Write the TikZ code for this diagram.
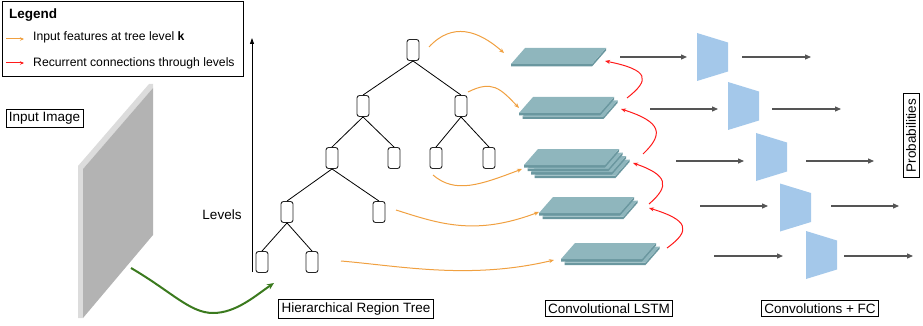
\documentclass[tikz,border=0pt]{standalone}
\usepackage{fontspec}
\setmainfont{Liberation Sans}
\usetikzlibrary{arrows.meta}
\definecolor{orangec}{HTML}{F0A040}
\definecolor{redc}{HTML}{FF1A1A}
\definecolor{greenc}{HTML}{3B7A1E}
\definecolor{grayarr}{HTML}{555555}
\definecolor{slabtop}{HTML}{8FB6BD}
\definecolor{slabedge}{HTML}{6A979F}
\definecolor{trapc}{HTML}{A4C8EA}
\definecolor{imgfront}{HTML}{B3B3B3}
\definecolor{imgedge}{HTML}{DCDCDC}
\newcommand\LstmLayer[2]{%
  \fill[slabedge] (#1-14,#2+16) -- (#1+67,#2+16) -- (#1+81,#2) -- (#1+81,#2+2.5) -- (#1+67,#2+18.5) -- (#1-14,#2+18.5) -- cycle;
  \fill[slabtop] (#1,#2) -- (#1+81,#2) -- (#1+67,#2+16) -- (#1-14,#2+16) -- cycle;
}
\newcommand\TrapShape[2]{%
  \fill[trapc] (#1,#2-24) -- (#1+31,#2-14.5) -- (#1+31,#2+14.5) -- (#1,#2+24) -- cycle;
}
\tikzset{
  treenode/.style={draw=black!85, rounded corners=2.5pt, minimum width=12pt, minimum height=21pt, line width=0.9pt, inner sep=0pt},
  labelbox/.style={draw, line width=0.7pt, font=\fontsize{13.5}{15}\selectfont, inner sep=3pt},
  treeedge/.style={line width=0.8pt, black},
  featarrow/.style={orangec, line width=1pt, -{Stealth[length=5pt,width=4pt]}},
  recarrow/.style={redc, line width=1pt, -{Stealth[length=5pt,width=4pt]}},
  grayarrow/.style={grayarr, line width=1.2pt, -{Triangle[length=6pt,width=5pt]}},
}
\begin{document}
\begin{tikzpicture}[x=1pt,y=-1pt]
\useasboundingbox (0,0) rectangle (923,326);
% Legend
\node[draw, line width=0.7pt, minimum width=241pt, minimum height=75pt, anchor=north west] (legend) at (2,1) {};
\node[anchor=west, font=\bfseries\fontsize{13.5}{15}\selectfont, inner sep=0pt] (legtitle) at (9,15) {Legend};
\coordinate (lo1) at (6,39); \coordinate (lo2) at (24,39);
\draw[featarrow, -{Stealth[length=4pt,width=3.5pt]}] (lo1) -- (lo2);
\node[anchor=west, font=\fontsize{12.2}{14}\selectfont, inner sep=0pt] (legtxt1) at (33,37) {Input features at tree level \textbf{k}};
\coordinate (lr1) at (6,63); \coordinate (lr2) at (24,63);
\draw[recarrow, -{Stealth[length=4pt,width=3.5pt]}] (lr1) -- (lr2);
\node[anchor=west, font=\fontsize{12.2}{14}\selectfont, inner sep=0pt] (legtxt2) at (33,63) {Recurrent connections through levels};
% Input image
\node[labelbox] (inimg) at (44.5,118.5) {Input Image};
\fill[imgedge] (78,166) -- (149,84) -- (153,84) -- (153,88) -- (83,169) -- (83,318) -- (78,318) -- cycle;
\fill[imgfront] (83,169) -- (153,88) -- (153,235) -- (83,318) -- cycle;
\coordinate (gstart) at (131,268);
\coordinate (gmid) at (213,313);
\coordinate (gend) at (274,283);
\draw[greenc, line width=2pt, -{Stealth[length=7pt,width=6pt]}] (gstart) .. controls (172,292) and (190,313) .. (gmid) .. controls (236,313) and (255,296) .. (gend);
% Levels axis
\coordinate (ax0) at (252,272); \coordinate (ax1) at (252,38);
\draw[line width=0.8pt, -{Triangle[length=6pt,width=4pt]}] (ax0) -- (ax1);
\node[font=\fontsize{13.5}{15}\selectfont] (levels) at (222,215) {Levels};
% Tree
\node[treenode] (r) at (413,50) {};
\node[treenode] (a) at (363,106) {};
\node[treenode] (b) at (461,106) {};
\node[treenode] (aa) at (332,158) {};
\node[treenode] (ab) at (394,158) {};
\node[treenode] (ba) at (436,158) {};
\node[treenode] (bb) at (489,158) {};
\node[treenode] (aaa) at (287,212) {};
\node[treenode] (aab) at (379,212) {};
\node[treenode] (aaaa) at (262,262) {};
\node[treenode] (aaab) at (312,262) {};
\foreach \p/\c in {r/a, r/b, a/aa, a/ab, b/ba, b/bb, aa/aaa, aa/aab, aaa/aaaa, aaa/aaab}
  \draw[treeedge] (\p.south) -- (\c.north);
% LSTM slabs
\LstmLayer{578.5}{246.5}\LstmLayer{575}{243}
\LstmLayer{556.5}{200.5}\LstmLayer{553}{197}
\LstmLayer{548.5}{159.5}\LstmLayer{545}{156}\LstmLayer{541.5}{152.5}\LstmLayer{538}{149}
\LstmLayer{536.5}{100.5}\LstmLayer{533}{97}
\LstmLayer{525}{48}
% feature arrows
\coordinate (f1s) at (429,47); \coordinate (f1e) at (504,53);
\coordinate (f2s) at (468,92); \coordinate (f2e) at (519,108);
\coordinate (f3s) at (433,175); \coordinate (f3e) at (522,169);
\coordinate (f4s) at (396,210); \coordinate (f4e) at (539,212);
\coordinate (f5s) at (341,261); \coordinate (f5e) at (554,260);
\draw[featarrow] (f1s) .. controls (452,22) and (478,30) .. (f1e);
\draw[featarrow] (f2s) .. controls (492,80) and (500,88) .. (f2e);
\draw[featarrow] (f3s) .. controls (455,194) and (480,185) .. (f3e);
\draw[featarrow] (f4s) .. controls (440,224) and (475,236) .. (f4e);
\draw[featarrow] (f5s) .. controls (400,266) and (470,280) .. (f5e);
% recurrent arrows
\coordinate (r1s) at (627,98); \coordinate (r1e) at (605,61);
\coordinate (r2s) at (643,154); \coordinate (r2e) at (621,109);
\coordinate (r3s) at (649,204); \coordinate (r3e) at (633,163);
\coordinate (r4s) at (667,248); \coordinate (r4e) at (649,208);
\draw[recarrow] (r1s) .. controls (650,80) and (650,70) .. (r1e);
\draw[recarrow] (r2s) .. controls (664,134) and (662,122) .. (r2e);
\draw[recarrow] (r3s) .. controls (670,186) and (668,175) .. (r3e);
\draw[recarrow] (r4s) .. controls (692,230) and (688,220) .. (r4e);
% trapezoids and gray arrows
\TrapShape{697}{57}
\TrapShape{728}{106}
\TrapShape{756}{157}
\TrapShape{780}{207.5}
\TrapShape{806}{255}
\foreach \i/\xa/\xb/\xc/\xd/\y in {1/620/687/742/811/57, 2/650/718/772/841/109, 3/676/744/806/874/161, 4/700/768/831/899/206, 5/714/783/844/913/256}{
  \coordinate (g\i a) at (\xa,\y); \coordinate (g\i b) at (\xb,\y);
  \coordinate (g\i c) at (\xc,\y); \coordinate (g\i d) at (\xd,\y);
  \draw[grayarrow] (g\i a) -- (g\i b);
  \draw[grayarrow] (g\i c) -- (g\i d);
}
% labels
\node[labelbox, rotate=90, inner xsep=5pt] (prob) at (911,135.5) {Probabilities};
\node[labelbox] (hrt) at (356,309) {Hierarchical Region Tree};
\node[labelbox] (clstm) at (609,308.5) {Convolutional LSTM};
\node[labelbox] (cfc) at (820,308.5) {Convolutions + FC};
\end{tikzpicture}
\end{document}
